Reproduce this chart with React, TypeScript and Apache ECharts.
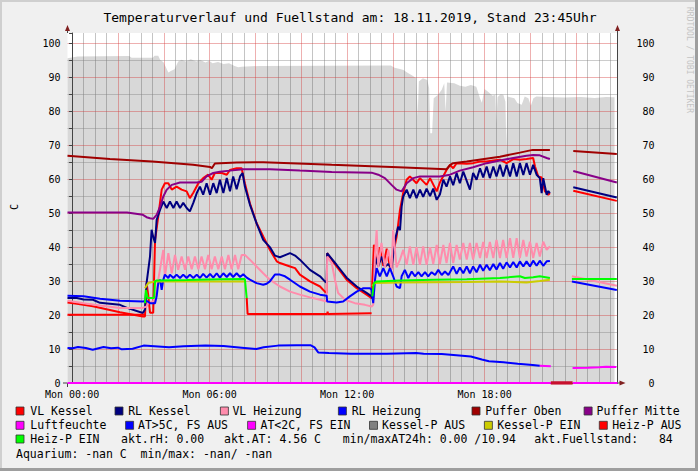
import React, { useEffect, useRef } from "react";
import * as echarts from "echarts";

type P = [number, number | null];

// ---------- texts ----------
const TITLE = "Temperaturverlauf und Fuellstand am: 18.11.2019, Stand 23:45Uhr";
const Y_NAME = "C";
const WATERMARK = "RRDTOOL / TOBI OETIKER";

// ---------- axes (x in hours relative to Mon 00:00) ----------
const X_MIN = -0.2;
const X_MAX = 23.8;
const Y_MIN = 0;
const Y_MAX = 103;
const xTickLabels: [number, string][] = [
  [0, "Mon 00:00"],
  [6, "Mon 06:00"],
  [12, "Mon 12:00"],
  [18, "Mon 18:00"],
];
const yTickLabels = [0, 10, 20, 30, 40, 50, 60, 70, 80, 90, 100];
const xMajorGrid = [0, 2, 4, 6, 8, 10, 12, 14, 16, 18, 20, 22];
const xMinorGrid = [
  0.5, 1, 1.5, 2.5, 3, 3.5, 4.5, 5, 5.5, 6.5, 7, 7.5, 8.5, 9, 9.5, 10.5, 11, 11.5, 12.5, 13, 13.5,
  14.5, 15, 15.5, 16.5, 17, 17.5, 18.5, 19, 19.5, 20.5, 21, 21.5, 22.5, 23, 23.5,
];

// ---------- series values ----------
const fuellstand: P[] = [
  [-0.2, 95.6], [0.24, 96.1], [2.49, 96.2], [2.6, 95.7], [3.52, 95.7], [3.6, 96.3], [3.76, 96.3],
  [3.84, 95.1], [3.99, 94.4], [4.2, 91.4], [4.31, 91.8], [4.47, 92.3], [4.63, 94.6], [4.79, 95.1],
  [4.95, 94.6], [5.18, 95.3], [5.42, 94.6], [5.58, 95.1], [5.82, 94.3], [5.98, 94.8], [6.13, 94.1],
  [6.37, 94.5], [6.61, 93.9], [6.85, 94.1], [7.09, 93.3], [7.25, 92.9], [7.4, 93.1], [8.2, 93.3],
  [13.91, 93.4], [14.07, 92.8], [14.31, 92.4], [14.46, 92.1], [14.62, 91.4], [14.86, 90.4],
  [15.02, 89.7], [15.08, 78.4], [15.13, 88.7], [15.31, 89.7], [15.5, 89.2], [15.58, 86.8],
  [15.63, 73.5], [15.71, 73.5], [15.78, 83.8], [15.97, 84.8], [16.13, 86.3], [16.24, 88.2],
  [16.3, 79.9], [16.36, 88.4], [16.68, 88.2], [16.92, 87.5], [17.16, 87.2], [17.4, 87.7],
  [17.64, 87.2], [17.8, 83.8], [17.88, 82.5], [18.0, 86.5], [18.19, 85.5], [18.35, 84.5],
  [18.47, 84.8], [18.51, 76.5], [18.57, 84.2], [18.7, 85.0], [18.82, 84.8], [18.91, 82.8],
  [18.95, 69.0], [19.0, 84.3], [19.3, 83.8], [19.43, 82.4], [19.62, 81.9], [19.75, 84.3],
  [19.91, 83.8], [20.02, 81.6], [20.13, 83.8], [20.26, 84.3], [20.73, 84.2], [21.5, 84.0],
  [22.2, 84.2], [22.8, 83.9], [23.3, 84.2], [23.67, 84.1],
];

const vlKessel: P[] = [
  [-0.2, 23.7], [0.21, 23.3], [0.91, 22.6], [2.09, 20.8], [3.09, 19.6], [3.18, 19.6], [3.25, 29.5],
  [3.32, 26], [3.4, 20.7], [3.54, 20.7], [3.62, 42], [3.76, 49], [3.91, 56.9], [4.05, 58.8],
  [4.2, 58.8], [4.35, 56.9], [4.56, 57.8], [4.78, 56.9], [5.0, 56.4], [5.14, 54.4], [5.29, 56],
  [5.51, 58.8], [5.72, 60.3], [5.94, 61.3], [6.09, 59.8], [6.23, 61.8], [6.53, 61.8], [6.75, 61.3],
  [6.89, 62.7], [7.18, 63.2], [7.4, 63.2], [7.54, 58.8], [7.76, 52.9], [8.05, 47.1], [8.34, 43.1],
  [8.63, 39.2], [8.93, 35.8], [9.07, 35.3], [9.51, 34.3], [9.73, 33.8], [9.94, 31.9], [10.38, 29.9],
  [10.82, 28.4], [11.03, 26.9], [11.11, 26.5], [11.13, 38.2], [11.54, 34.3], [11.98, 30.4],
  [12.42, 27.9], [12.85, 26], [13.07, 25], [13.17, 40.7], [13.29, 35], [13.43, 40], [13.58, 34.5],
  [13.73, 39.5], [13.87, 34], [14.01, 38], [14.16, 43], [14.31, 51], [14.45, 56], [14.6, 59.8],
  [14.74, 60.8], [15.03, 58.8], [15.18, 60.3], [15.47, 58.3], [15.62, 60.3], [15.91, 56.4],
  [16.05, 59], [16.34, 62.7], [16.49, 64.2], [16.63, 63.2], [16.78, 64.7], [17.22, 64.5],
  [17.5, 64.7], [17.8, 65.2], [18.09, 65.2], [18.38, 65.5], [18.67, 65.7], [18.96, 64.7],
  [19.25, 65.9], [19.54, 65.7], [19.83, 65.9], [20.12, 66.2], [20.2, 63.7], [20.34, 60.8],
  [20.49, 60.5], [20.63, 56.4], [20.78, 55.4], [20.85, 55.9], [21.3, null], [21.87, 56.6],
  [23.77, 53.6],
];

const rlKessel: P[] = [
  [-0.2, 25], [0.21, 25], [0.5, 24.6], [0.91, 24.5], [1.22, 23.6], [1.65, 23.3], [2.09, 23],
  [2.4, 22.1], [3.09, 20.6], [3.18, 21.6], [3.25, 29.4], [3.4, 37.2], [3.47, 45.1], [3.54, 43],
  [3.62, 41.2], [3.69, 48], [3.84, 51], [3.98, 53.4], [4.13, 51.5], [4.27, 53.4], [4.42, 51.5],
  [4.56, 53.4], [4.71, 51.5], [4.85, 53], [5.0, 51.5], [5.14, 50.5], [5.29, 53], [5.44, 55.9],
  [5.58, 57.8], [5.72, 55.4], [5.87, 58.8], [6.02, 55.4], [6.16, 58.8], [6.31, 55.9], [6.45, 59.8],
  [6.6, 55.9], [6.75, 60.3], [6.89, 56.4], [7.03, 60.8], [7.18, 57], [7.33, 60.8], [7.44, 61.8],
  [7.54, 57.8], [7.76, 52.5], [8.05, 47], [8.34, 42.1], [8.63, 40], [8.85, 37.5], [9.07, 37],
  [9.51, 38.2], [9.73, 37.5], [9.94, 36.3], [10.38, 33.3], [10.82, 31.4], [11.03, 29.9],
  [11.11, 29.5], [11.13, 38.2], [11.54, 34.8], [11.98, 31], [12.42, 28.4], [12.85, 26.5],
  [13.07, 25.5], [13.14, 24.5], [13.22, 37.2], [13.36, 34.3], [13.5, 37.2], [13.65, 34.3],
  [13.8, 35], [13.94, 33.8], [14.09, 42.1], [14.23, 46], [14.31, 45], [14.38, 51.9], [14.45, 54.9],
  [14.6, 56.9], [14.74, 54.4], [14.89, 56.9], [15.03, 54.4], [15.18, 56.9], [15.32, 54.8],
  [15.47, 57.2], [15.62, 55], [15.76, 57.2], [15.91, 53.9], [16.05, 55.5], [16.2, 59.8],
  [16.34, 57.8], [16.49, 60.8], [16.63, 58.2], [16.78, 61.8], [16.92, 58.8], [17.07, 62.2],
  [17.22, 59.5], [17.36, 56.9], [17.5, 61.8], [17.65, 59.8], [17.8, 63.2], [17.94, 60.5],
  [18.09, 63.7], [18.23, 60.3], [18.38, 63.7], [18.52, 60.8], [18.67, 64.2], [18.81, 60.8],
  [18.96, 64.2], [19.11, 60.8], [19.25, 64.7], [19.4, 60.8], [19.54, 64.7], [19.69, 61.2],
  [19.83, 64.7], [19.98, 61.3], [20.12, 64.2], [20.27, 61.3], [20.41, 60.3], [20.49, 55.9],
  [20.56, 60.3], [20.71, 55.4], [20.78, 56.5], [20.85, 55.9], [21.3, null], [21.87, 57.6],
  [23.77, 54.6],
];

const vlHeizung: P[] = [
  [-0.2, 24.2], [0.5, 23.5], [1.22, 22.8], [2.09, 22.1], [3.09, 22.1], [3.25, 22.5], [3.32, 23.5],
  [3.54, 24], [3.69, 27], [3.76, 30.4], [3.98, 39.2], [4.05, 31.4], [4.2, 38.2], [4.35, 32.3],
  [4.49, 37.7], [4.63, 33.3], [4.78, 37.2], [4.93, 33.3], [5.07, 37.2], [5.22, 33.5], [5.36, 37.2],
  [5.51, 33.5], [5.65, 37.2], [5.8, 33.5], [5.94, 37.7], [6.09, 33.5], [6.23, 37.2], [6.38, 33.5],
  [6.53, 37.2], [6.67, 33.5], [6.82, 37.7], [6.96, 33.5], [7.11, 37.7], [7.25, 33.5], [7.4, 37.7],
  [7.54, 37.7], [7.76, 36.3], [8.05, 34.3], [8.34, 32.3], [8.63, 30.4], [9.07, 28.4], [9.51, 26.9],
  [9.94, 26], [10.38, 25.2], [10.82, 24.5], [11.11, 24], [11.13, 37.2], [11.33, 35.3],
  [11.47, 30.4], [11.61, 26.5], [11.91, 24.5], [12.34, 23.5], [12.78, 23], [13.07, 22.5],
  [13.14, 23], [13.22, 38], [13.29, 45], [13.36, 34], [13.5, 41.2], [13.65, 34], [13.8, 39.2],
  [13.94, 33.3], [14.01, 45], [14.16, 34], [14.31, 36.3], [14.45, 39.2], [14.6, 34.8],
  [14.74, 40.2], [14.89, 34.8], [15.03, 40], [15.18, 34.8], [15.32, 40.2], [15.47, 34.8],
  [15.62, 40], [15.76, 35], [15.91, 40.6], [16.05, 35], [16.2, 40.6], [16.34, 35.3], [16.49, 41.2],
  [16.63, 35.3], [16.78, 40.6], [16.92, 36.3], [17.07, 41.2], [17.22, 36.3], [17.36, 41.2],
  [17.5, 36.3], [17.65, 41.2], [17.8, 36.8], [17.94, 41.5], [18.09, 36.8], [18.23, 41.5],
  [18.38, 36.8], [18.52, 42.1], [18.67, 36.8], [18.81, 42.1], [18.96, 36.8], [19.11, 42.6],
  [19.25, 36.8], [19.4, 42.6], [19.54, 36.8], [19.69, 42.1], [19.83, 37.2], [19.98, 41.6],
  [20.12, 36.8], [20.27, 41.2], [20.41, 37.2], [20.56, 41.6], [20.71, 39.2], [20.85, 40.2],
  [21.3, null], [21.81, 31.4], [23.77, 28.6],
];

const rlHeizung: P[] = [
  [-0.2, 25.7], [0.5, 25.5], [1.22, 24.8], [2.09, 24.2], [3.09, 24], [3.25, 24.2], [3.4, 23.5],
  [3.62, 23.5], [3.69, 25.5], [3.76, 29.4], [3.84, 30.4], [3.91, 27.4], [3.98, 30.4], [4.05, 31.9],
  [4.2, 30.9], [4.27, 31.9], [4.42, 30.9], [4.56, 31.9], [4.71, 30.9], [4.85, 31.9], [5.0, 30.9],
  [5.14, 31.9], [5.29, 30.9], [5.44, 31.9], [5.58, 30.9], [5.72, 32.1], [5.87, 31], [6.02, 32.1],
  [6.16, 31], [6.31, 32.3], [6.45, 31], [6.6, 32.3], [6.75, 31.2], [6.89, 32.3], [7.03, 31.2],
  [7.18, 32.3], [7.33, 31.2], [7.47, 32], [7.62, 31], [7.76, 30.4], [8.05, 29.4], [8.34, 28.9],
  [8.49, 29.2], [8.63, 29.9], [8.85, 31.9], [9.07, 31.9], [9.29, 31.4], [9.51, 30.4], [9.94, 28.4],
  [10.38, 26.9], [10.82, 26], [11.11, 25.7], [11.13, 24], [11.54, 23.7], [11.83, 24], [12.12, 25.5],
  [12.42, 26.9], [12.71, 27.9], [13.0, 27.9], [13.07, 27.4], [13.14, 23.5], [13.22, 30.4],
  [13.29, 33.8], [13.43, 31.4], [13.58, 33.8], [13.73, 31.4], [13.87, 33.8], [14.01, 31.4],
  [14.16, 28.4], [14.31, 27.9], [14.38, 31.4], [14.52, 33.3], [14.67, 30.9], [14.82, 32.8],
  [14.96, 31.4], [15.11, 32.6], [15.25, 31.4], [15.4, 32.6], [15.54, 31.4], [15.69, 32.6],
  [15.84, 31.8], [15.98, 33.3], [16.13, 31.8], [16.27, 32.8], [16.42, 31.8], [16.63, 34.3],
  [16.78, 32.1], [16.92, 34], [17.07, 32.3], [17.22, 34.3], [17.36, 32.3], [17.5, 34.3],
  [17.65, 32.6], [17.8, 34.8], [17.94, 33], [18.09, 34.8], [18.23, 33.2], [18.38, 35],
  [18.52, 33.4], [18.67, 35.3], [18.81, 33.6], [18.96, 35.5], [19.11, 34], [19.25, 35.6],
  [19.4, 34], [19.54, 35.8], [19.69, 34.3], [19.83, 35.8], [19.98, 34.3], [20.12, 36],
  [20.27, 34.5], [20.41, 36], [20.56, 34.5], [20.71, 35.8], [20.85, 35.9], [21.3, null],
  [21.81, 29.9], [23.77, 27.4],
];

const pufferOben: P[] = [
  [-0.2, 66.9], [1.65, 65.9], [3.5, 65.2], [5.28, 64.2], [6.02, 63.6], [6.1, 63.2], [6.23, 64.6],
  [7.18, 64.9], [8.34, 65.0], [11.33, 64.2], [14.23, 63.5], [16.34, 62.9], [16.5, 64.2],
  [16.63, 64.7], [17.22, 65.2], [18.67, 66.6], [19.54, 67.8], [20.1, 68.6], [20.85, 68.6],
  [21.3, null], [21.87, 68.3], [23.77, 67.4],
];

const pufferMitte: P[] = [
  [-0.2, 50.2], [2.4, 50.2], [3.09, 49.5], [3.25, 48.8], [3.4, 48.5], [3.54, 48.3], [3.69, 49.5],
  [3.84, 51.9], [3.98, 54.9], [4.13, 56.9], [4.35, 58.3], [4.71, 59], [5.14, 59], [5.44, 59],
  [5.65, 59.2], [5.87, 60.8], [6.16, 61.8], [6.45, 62.2], [6.89, 62.5], [7.47, 62.9], [8.63, 62.9],
  [9.94, 62.5], [11.33, 62.1], [13.07, 61.9], [13.36, 61.3], [13.65, 60.3], [13.94, 58.3],
  [14.16, 56.9], [14.38, 56.4], [14.6, 58.8], [14.89, 60.3], [15.18, 60.8], [16.05, 60.8],
  [16.49, 61.3], [16.92, 62.5], [17.5, 63.5], [18.09, 64.7], [18.67, 65.5], [19.25, 66.2],
  [19.83, 66.9], [20.12, 67.1], [20.41, 67], [20.71, 66.2], [20.85, 65.9], [21.3, null],
  [21.87, 62.4], [23.77, 59],
];

const luftfeuchte: P[] = [[-0.2, 0], [20.89, 0], [21.3, null], [21.84, 0], [23.8, 0]];
const unbekannt: P[] = [[20.89, 0], [21.84, 0]];

const atWarm: P[] = [
  [-0.2, 10.3], [0.03, 10.2], [0.26, 10.6], [0.6, 10.3], [0.9, 9.8], [1.37, 10.6], [1.7, 10.2],
  [2.0, 10.4], [2.17, 9.9], [2.64, 10.1], [3.12, 11], [3.6, 10.8], [4.23, 10.5], [4.39, 10.6],
  [4.86, 10.8], [5.82, 11], [6.61, 10.9], [7.4, 10.4], [8.04, 10], [8.36, 10.5], [8.98, 11],
  [9.79, 11.1], [10.42, 11.1], [10.58, 10.5], [10.74, 9.0], [11.21, 8.8], [12.17, 8.6],
  [12.95, 8.6], [13.74, 8.6], [15.02, 8.8], [15.34, 8.6], [16.13, 8.5], [16.77, 8.2],
  [17.4, 7.8], [17.88, 6.9], [18.19, 6.4], [18.83, 6.1], [19.45, 5.7], [20.1, 5.3], [20.41, 5.1],
];
const atKalt: P[] = [
  [20.41, 5.1], [20.89, 4.9], [21.3, null], [21.84, 4.4], [22.5, 4.5], [23.0, 4.6], [23.3, 4.8],
  [23.75, 4.7],
];

const kesselPEin: P[] = [
  [3.18, 27.9], [3.32, 29.4], [3.62, 29.9], [7.54, 29.9], [9.0, null], [13.1, 28.5], [13.2, 29.4],
  [14.31, 29.6], [17.22, 29.7], [18.67, 29.9], [19.83, 29.6], [20.41, 30], [20.85, 30.4],
];

const heizPAus: P[] = [
  [-0.2, 20.1], [3.18, 20.1], [5.0, null], [7.62, 25], [7.66, 20.3], [11.13, 20.3], [11.15, 21],
  [11.17, 20.3], [13.07, 20.5],
];

const heizPEin: P[] = [
  [3.18, 23.5], [3.22, 27.4], [3.3, 25], [3.58, 25], [3.62, 29.9], [3.69, 30.2], [5.0, 30.3],
  [6.5, 30.5], [7.54, 30.6], [7.62, 25], [9.0, null], [13.1, 25.5], [13.17, 29.4], [13.29, 29.9],
  [14.31, 30.2], [15.76, 30.4], [17.22, 30.5], [18.67, 30.9], [19.54, 31.4], [19.76, 30.9],
  [20.12, 31.1], [20.41, 31.4], [20.85, 30.9], [21.3, null], [21.81, 30.6], [23.77, 30.6],
];

// ---------- legend texts ----------
const legendNames = [
  "VL Kessel", "RL Kessel", "VL Heizung", "RL Heizung", "Puffer Oben", "Puffer Mitte",
  "Luftfeuchte", "AT>5C, FS AUS", "AT<2C, FS EIN", "Kessel-P AUS", "Kessel-P EIN", "Heiz-P AUS",
  "Heiz-P EIN",
];
const infoTexts = [
  "akt.rH: 0.00",
  "akt.AT: 4.56 C",
  "min/maxAT24h: 0.00 /10.94",
  "akt.Fuellstand:   84",
];
const aquariumText = "Aquarium: -nan C  min/max: -nan/ -nan";

// ---------- styling ----------
const FONT = "'DejaVu Sans Mono', monospace";
const COLORS: Record<string, string> = {
  "VL Kessel": "#ff0000",
  "RL Kessel": "#000080",
  "VL Heizung": "#ff8cac",
  "RL Heizung": "#0000ff",
  "Puffer Oben": "#a00000",
  "Puffer Mitte": "#880088",
  "Luftfeuchte": "#ff00ff",
  "AT>5C, FS AUS": "#0000ff",
  "AT<2C, FS EIN": "#ff00ff",
  "Kessel-P AUS": "#808080",
  "Kessel-P EIN": "#cccc00",
  "Heiz-P AUS": "#ff0000",
  "Heiz-P EIN": "#00ff00",
};
const MAJOR = "#eeaaaa";
const MINOR = "#cfcfcf";
const MINOR_V = "#b4b4b4";
const AXIS = "#444";
const ARROW = "#802020";

// legend layout: [boxX, textX, rowCenterY]
const LEGEND_POS: [number, number, number][] = [
  [16, 30.3, 411], [115, 128.2, 411], [220.4, 232.4, 411], [338.4, 351.7, 411], [472, 485.3, 411], [584.1, 596.6, 411],
  [16, 30.3, 425.3], [125.6, 138, 425.3], [247.6, 260.5, 425.3], [369.5, 382, 425.3], [484.4, 497.3, 425.3], [599.3, 612.2, 425.3],
  [16, 30.3, 439],
];
const INFO_POS: [number, number][] = [[121.1, 439], [224, 439], [342.8, 439], [534.3, 439]];

const GRID = { left: 67.5, right: 80.5, top: 33, bottom: 88 };

export default function App() {
  const ref = useRef<HTMLDivElement>(null);

  useEffect(() => {
    if (!ref.current) return;
    const chart = echarts.init(ref.current, undefined, { renderer: "svg" });

    const gridSeries = (name: string, values: number[], color: string, opacity: number, z: number) => ({
      name,
      type: "line",
      data: [[X_MIN, Y_MIN], [X_MAX, Y_MIN]],
      showSymbol: false,
      symbol: "none",
      silent: true,
      z,
      lineStyle: { width: 0, opacity: 0 },
      markLine: {
        silent: true,
        z,
        symbol: ["none", "none"],
        label: { show: false },
        lineStyle: { type: "solid", width: 1, color, opacity },
        emphasis: { disabled: true },
        data: values.map((v) => ({ xAxis: v })),
      },
    });

    const lineSeries = (name: string, data: P[], color: string, width = 2, z = 5) => ({
      name,
      type: "line",
      data,
      showSymbol: false,
      symbol: "none",
      connectNulls: false,
      silent: true,
      z,
      lineStyle: { color, width },
      itemStyle: { color },
    });

    const xLabel = (v: number) => {
      const f = xTickLabels.find((t) => Math.abs(t[0] - v) < 1e-6);
      return f ? f[1] : "";
    };
    const yLabel = (v: number) =>
      yTickLabels.some((t) => Math.abs(t - v) < 1e-6) ? String(Math.round(v)) : "";

    const graphic: any[] = [];
    // frame
    graphic.push(
      { type: "rect", shape: { x: 0, y: 0, width: 698, height: 2 }, style: { fill: "#cfcfcf" }, silent: true },
      { type: "rect", shape: { x: 0, y: 0, width: 2, height: 471 }, style: { fill: "#cfcfcf" }, silent: true },
      { type: "rect", shape: { x: 0, y: 468, width: 698, height: 3 }, style: { fill: "#9e9e9e" }, silent: true },
      { type: "rect", shape: { x: 695, y: 0, width: 3, height: 471 }, style: { fill: "#9e9e9e" }, silent: true }
    );
    // title
    graphic.push({
      type: "text",
      x: 350,
      y: 17,
      silent: true,
      style: { text: TITLE, font: `13px ${FONT}`, fill: "#000", align: "center", verticalAlign: "middle" },
    });
    // y name
    graphic.push({
      type: "text",
      x: 14,
      y: 207,
      rotation: Math.PI / 2,
      silent: true,
      style: { text: Y_NAME, font: `10px ${FONT}`, fill: "#000", align: "center", verticalAlign: "middle" },
    });
    // watermark
    graphic.push({
      type: "text",
      x: 689,
      y: 60,
      rotation: -Math.PI / 2,
      silent: true,
      style: { text: WATERMARK, font: `8px ${FONT}`, fill: "#c4c4c4", align: "center", verticalAlign: "middle" },
    });
    // axis extensions and arrows
    const axY = 471 - GRID.bottom;
    const axL = GRID.left;
    const axR = 698 - GRID.right;
    graphic.push(
      { type: "line", shape: { x1: 63, y1: axY, x2: axL, y2: axY }, style: { stroke: AXIS, lineWidth: 1 }, silent: true },
      { type: "line", shape: { x1: axR, y1: axY, x2: axR + 3, y2: axY }, style: { stroke: AXIS, lineWidth: 1 }, silent: true },
      { type: "line", shape: { x1: axL, y1: axY, x2: axL, y2: axY + 4 }, style: { stroke: AXIS, lineWidth: 1 }, silent: true },
      { type: "line", shape: { x1: axL, y1: 30, x2: axL, y2: GRID.top }, style: { stroke: AXIS, lineWidth: 1 }, silent: true },
      { type: "line", shape: { x1: axR, y1: 30, x2: axR, y2: GRID.top }, style: { stroke: AXIS, lineWidth: 1 }, silent: true },
      { type: "polygon", shape: { points: [[axL - 2.5, 31], [axL + 2.5, 31], [axL, 25]] }, style: { fill: ARROW }, silent: true },
      { type: "polygon", shape: { points: [[axR - 2.5, 31], [axR + 2.5, 31], [axR, 25]] }, style: { fill: ARROW }, silent: true },
      { type: "polygon", shape: { points: [[axR + 2, axY - 2.5], [axR + 2, axY + 2.5], [axR + 8, axY]] }, style: { fill: ARROW }, silent: true }
    );
    // legend
    legendNames.forEach((name, i) => {
      const [bx, tx, cy] = LEGEND_POS[i];
      graphic.push({
        type: "rect",
        shape: { x: bx, y: cy - 4, width: 8, height: 8 },
        style: { fill: COLORS[name], stroke: "#333", lineWidth: 0.8 },
        silent: true,
      });
      graphic.push({
        type: "text",
        x: tx,
        y: cy,
        silent: true,
        style: { text: name, font: `11.5px ${FONT}`, fill: "#000", align: "left", verticalAlign: "middle" },
      });
    });
    infoTexts.forEach((t, i) => {
      graphic.push({
        type: "text",
        x: INFO_POS[i][0],
        y: INFO_POS[i][1],
        silent: true,
        style: { text: t, font: `11.5px ${FONT}`, fill: "#000", align: "left", verticalAlign: "middle" },
      });
    });
    graphic.push({
      type: "text",
      x: 16,
      y: 453.7,
      silent: true,
      style: { text: aquariumText, font: `11.5px ${FONT}`, fill: "#000", align: "left", verticalAlign: "middle" },
    });

    const option: any = {
      animation: false,
      backgroundColor: "#f0f0f0",
      grid: {
        left: GRID.left,
        right: GRID.right,
        top: GRID.top,
        bottom: GRID.bottom,
        show: true,
        backgroundColor: "#ffffff",
        borderWidth: 0,
        containLabel: false,
        outerBoundsMode: "none",
        z: 0,
      },
      xAxis: {
        type: "value",
        min: X_MIN,
        max: X_MAX,
        interval: 0.1,
        z: 3,
        axisLine: { show: true, onZero: false, lineStyle: { color: AXIS, width: 1 } },
        axisTick: { show: false },
        axisLabel: {
          formatter: xLabel,
          fontFamily: FONT,
          fontSize: 10,
          color: "#000",
          margin: 6,
          showMinLabel: true,
          showMaxLabel: true,
        },
        splitLine: { show: false },
      },
      yAxis: [
        {
          type: "value",
          position: "left",
          min: Y_MIN,
          max: Y_MAX,
          interval: 5,
          z: 3,
          axisLine: { show: true, lineStyle: { color: AXIS, width: 1 } },
          axisTick: { show: true, length: 3, lineStyle: { color: AXIS } },
          axisLabel: { formatter: yLabel, fontFamily: FONT, fontSize: 10, color: "#000", margin: 7 },
          splitLine: {
            show: true,
            showMaxLine: false,
            lineStyle: { color: ["#d43a3a", "#808080"], width: 1, opacity: 0.4 },
          },
        },
        {
          type: "value",
          position: "right",
          min: Y_MIN,
          max: Y_MAX,
          interval: 5,
          z: 3,
          axisLine: { show: true, lineStyle: { color: AXIS, width: 1 } },
          axisTick: { show: false },
          axisLabel: {
            formatter: yLabel,
            fontFamily: FONT,
            fontSize: 10,
            color: "#000",
            margin: 37,
            align: "right",
          },
          splitLine: { show: false },
        },
      ],
      series: [
        {
          name: "Fuellstand",
          type: "line",
          data: fuellstand,
          showSymbol: false,
          symbol: "none",
          silent: true,
          z: 1,
          lineStyle: { width: 0, color: "#d8d8d8" },
          areaStyle: { color: "#d8d8d8", opacity: 1 },
        },
        gridSeries("gridMinor", xMinorGrid, "#555555", 0.35, 2),
        gridSeries("gridMajor", xMajorGrid, "#d43a3a", 0.4, 2),
        lineSeries("VL Kessel", vlKessel, COLORS["VL Kessel"]),
        lineSeries("RL Kessel", rlKessel, COLORS["RL Kessel"]),
        lineSeries("VL Heizung", vlHeizung, COLORS["VL Heizung"]),
        lineSeries("RL Heizung", rlHeizung, COLORS["RL Heizung"]),
        lineSeries("Puffer Oben", pufferOben, COLORS["Puffer Oben"]),
        lineSeries("Puffer Mitte", pufferMitte, COLORS["Puffer Mitte"]),
        lineSeries("Luftfeuchte", luftfeuchte, COLORS["Luftfeuchte"]),
        lineSeries("unbekannt", unbekannt, "#c8102e", 3.5),
        lineSeries("AT>5C, FS AUS", atWarm, COLORS["AT>5C, FS AUS"]),
        lineSeries("AT<2C, FS EIN", atKalt, COLORS["AT<2C, FS EIN"]),
        lineSeries("Kessel-P EIN", kesselPEin, COLORS["Kessel-P EIN"]),
        lineSeries("Heiz-P AUS", heizPAus, COLORS["Heiz-P AUS"]),
        lineSeries("Heiz-P EIN", heizPEin, COLORS["Heiz-P EIN"]),
      ],
      graphic,
    };

    chart.setOption(option);
    return () => chart.dispose();
  }, []);

  return (
    <div
      ref={ref}
      style={{ position: "fixed", left: 0, top: 0, width: 698, height: 471, background: "#f0f0f0" }}
    />
  );
}
